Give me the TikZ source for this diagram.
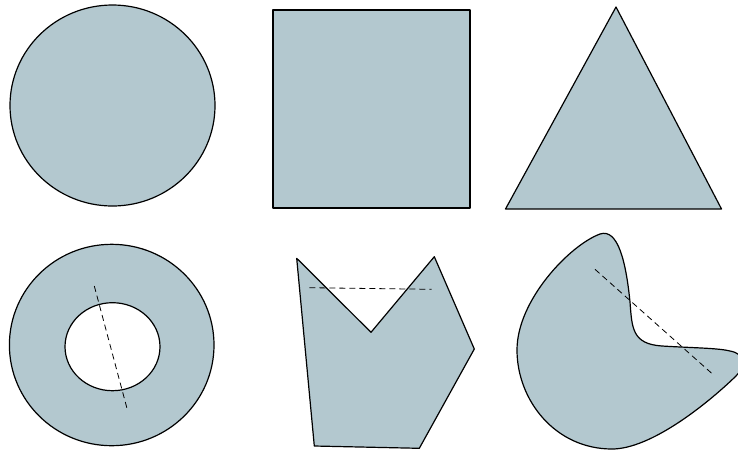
\documentclass[tikz,border=0pt]{standalone}
\definecolor{shapefill}{RGB}{179,200,207}
\tikzset{
  figshape/.style={draw=black, fill=shapefill, line width=1.2pt, line join=round},
  cutline/.style={draw=black, line width=0.8pt, dash pattern=on 6pt off 4pt}
}
\begin{document}
\begin{tikzpicture}[x=1pt,y=-1pt]
\useasboundingbox (0,0) rectangle (738,456);
% top row
\path[figshape] (112.5,105.5) ellipse [x radius=102.5, y radius=100.5];
\path[figshape] (273,10) rectangle (470,208);
\path[figshape] (616,7) -- (721.5,209) -- (505.5,209) -- cycle;
% annulus
\path[figshape, even odd rule] (111.7,345) ellipse [x radius=102.3, y radius=100.7]
  (112.5,346.7) ellipse [x radius=47.5, y radius=44];
\coordinate (a1) at (94.3,286);
\coordinate (a2) at (127.7,411);
\draw[cutline] (a1) -- (a2);
% polygon
\path[figshape] (296.7,258.3) -- (371,332.3) -- (434.3,256.7) -- (474.3,349)
  -- (419.3,448.3) -- (314.3,446) -- cycle;
\coordinate (p1) at (309.3,287.7);
\coordinate (p2) at (431.7,289.3);
\draw[cutline] (p1) -- (p2);
% blob
\path[figshape] (600,234) .. controls (618,228) and (626,262) .. (630,302)
  .. controls (632,328) and (632,344) .. (662,346)
  .. controls (695,348) and (718,348) .. (730,351)
  .. controls (746,354) and (746,366) .. (736,376)
  .. controls (705,406) and (650,449) .. (612,449)
  .. controls (555,449) and (517,400) .. (517,350)
  .. controls (517,300) and (570,245) .. (600,234) -- cycle;
\coordinate (b1) at (595,269.3);
\coordinate (b2) at (711.7,373.3);
\draw[cutline] (b1) -- (b2);
\end{tikzpicture}
\end{document}
